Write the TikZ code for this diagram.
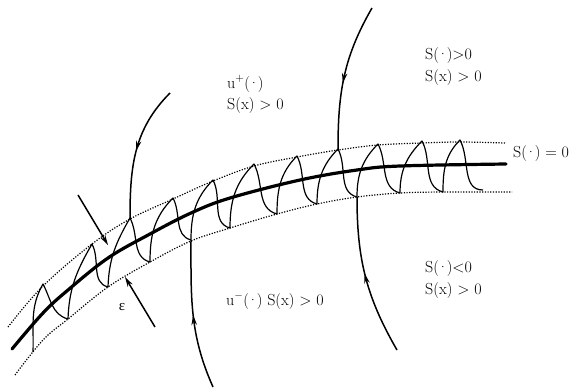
\documentclass[tikz,border=0pt]{standalone}
\usepackage{fontspec}
\newfontfamily\grkfont{Liberation Serif}
\usetikzlibrary{arrows.meta,decorations.markings}
\newcommand{\dotarg}{(\kern-1.9pt·\kern-1.9pt)}
\tikzset{
  lbl/.style={inner sep=0pt, anchor=base west, font=\fontsize{16}{20}\selectfont},
  maincurve/.style={line width=3.2pt, line cap=round},
  bandline/.style={line width=1.2pt, dash pattern=on 1.2pt off 1.5pt},
  chat/.style={line width=1.2pt, line join=round},
  asc/.style={out=90, in=-135},
  ascl/.style={out=88, in=-120},
  desc/.style={out=-62, in=165},
  traj/.style={line width=1.5pt},
  tip/.style={-{Stealth[length=10pt,width=5.5pt]}},
  midarrow/.style={postaction={decorate}, decoration={markings, mark=at position #1 with {\arrow{Stealth[length=10pt,width=5.5pt]}}}}
}
\begin{document}
\begin{tikzpicture}[x=1pt,y=-1pt]
\useasboundingbox (0,0) rectangle (571,389);
% band
\draw[bandline] plot[smooth, tension=0.6] coordinates {(8,327) (43,286) (92,244) (130,219) (173,199) (213,181) (254,166) (297,157) (338,150) (378,145) (422,143) (460,142) (505,143)};
\draw[bandline] plot[smooth, tension=0.6] coordinates {(15,375) (43,340) (68,319) (108,287) (150,262) (191,241) (230,228) (277,214) (317,204) (357,197) (400,193) (443,192) (512,192)};
\draw[maincurve] plot[smooth, tension=0.6] coordinates {(12,349) (43,313) (68,290) (108,258) (150,234) (191,213) (230,198) (300,180) (357,170) (400,166) (506,164)};
% chattering points
\coordinate (B0) at (33,352);
\coordinate (P1) at (43,284);
\coordinate (B1) at (68,319);
\coordinate (P2) at (92,244);
\coordinate (B2) at (108,287);
\coordinate (P3) at (130,218);
\coordinate (B3) at (150,262);
\coordinate (P4) at (173,198);
\coordinate (B4) at (191,240);
\coordinate (P5) at (213,180);
\coordinate (B5) at (230,228);
\coordinate (P6) at (254,164);
\coordinate (B6) at (277,214);
\coordinate (P7) at (297,156);
\coordinate (B7) at (317,204);
\coordinate (P8) at (338,149);
\coordinate (B8) at (357,197);
\coordinate (P9) at (378,144);
\coordinate (B9) at (400,193);
\coordinate (P10) at (422,141);
\coordinate (B10) at (443,192);
\coordinate (P11) at (460,140);
\coordinate (E) at (483,190);
\draw[chat] (B0) to[ascl] (P1) to[desc] (B1) to[ascl] (P2) to[desc] (B2) to[ascl] (P3) to[desc] (B3)
  to[asc] (P4) to[desc] (B4) to[asc] (P5) to[desc] (B5) to[asc] (P6) to[desc] (B6)
  to[asc] (P7) to[desc] (B7) to[asc] (P8) to[desc] (B8) to[asc] (P9) to[desc] (B9)
  to[asc] (P10) to[desc] (B10) to[asc] (P11) to[out=-62,in=180] (E);
% trajectories
\coordinate (T1) at (170,93);
\coordinate (T2) at (372,8);
\coordinate (T3) at (213,387);
\coordinate (T4) at (397,350);
\draw[traj, midarrow=0.5] (T1) to[out=-135, in=90] (P3);
\draw[traj, midarrow=0.55] (T2) to[out=-120, in=90] (P8);
\draw[traj, midarrow=0.5] (T3) to[out=114, in=-90] (B4);
\draw[traj, midarrow=0.52] (T4) to[out=120, in=-90] (B8);
% epsilon arrows
\coordinate (A1) at (78,195);
\coordinate (A1t) at (108,245);
\coordinate (A2) at (155,327);
\coordinate (A2t) at (125,277);
\draw[traj, tip] (A1) -- (A1t);
\draw[traj, tip] (A2) -- (A2t);
\node[inner sep=0pt, font=\fontsize{15}{18}\grkfont] (eps) at (122,307) {ε};
% labels
\node[lbl] (up1) at (227,88) {u$^{+}$\dotarg};
\node[lbl] (up2) at (227,109) {S(x) > 0};
\node[lbl] (tr1) at (425,59) {S\dotarg>0};
\node[lbl] (tr2) at (425,81) {S(x) > 0};
\node[lbl] (br1) at (425,272) {S\dotarg<0};
\node[lbl] (br2) at (425,294) {S(x) > 0};
\node[lbl] (um) at (226,305) {u$^{-}$\dotarg{} S(x) > 0};
\node[lbl] (s0) at (513,157) {S\dotarg{} = 0};
\end{tikzpicture}
\end{document}
